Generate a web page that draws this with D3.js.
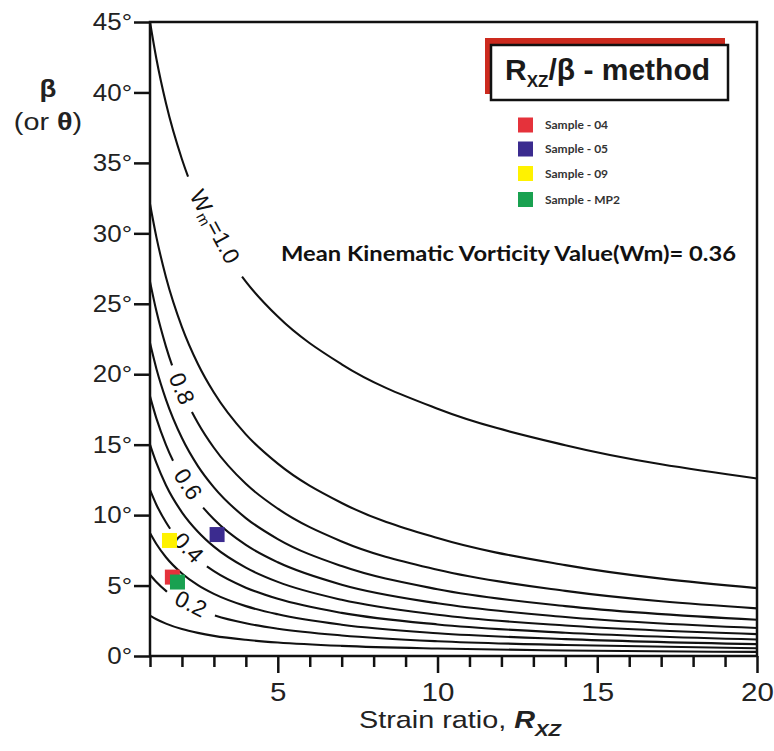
<!DOCTYPE html>
<html><head><meta charset="utf-8">
<script src="https://cdn.jsdelivr.net/npm/d3@7"></script>
<style>body{margin:0;background:#fff} svg{display:block;background:#fff}</style>
</head><body>
<svg id="chart" width="774" height="751"></svg>
<script>
// Strain ratio values at which the curves were read
const rValues = [1, 1.2, 1.5, 2, 2.5, 3, 4, 5, 7, 10, 14, 20];
// Wm contour levels
const wmLevels = [1.0, 0.9, 0.8, 0.7, 0.6, 0.5, 0.4, 0.3, 0.2, 0.1];
// beta (degrees) for each Wm level, at rValues
const betaW10 = [45.00, 42.39, 39.23, 35.26, 32.31, 30.00, 26.57, 24.09, 20.70, 17.55, 14.96, 12.60];
const betaW09 = [32.08, 29.73, 26.89, 23.35, 20.73, 18.70, 15.73, 13.65, 10.86, 8.37, 6.45, 4.82];
const betaW08 = [26.57, 24.48, 21.96, 18.83, 16.54, 14.78, 12.22, 10.46, 8.13, 6.12, 4.62, 3.38];
const betaW07 = [22.21, 20.39, 18.20, 15.47, 13.48, 11.97, 9.79, 8.30, 6.38, 4.74, 3.54, 2.57];
const betaW06 = [18.43, 16.87, 14.99, 12.67, 10.99, 9.70, 7.88, 6.65, 5.06, 3.74, 2.77, 1.99];
const betaW05 = [15.00, 13.70, 12.12, 10.20, 8.82, 7.76, 6.27, 5.26, 3.99, 2.93, 2.16, 1.55];
const betaW04 = [11.79, 10.74, 9.49, 7.97, 6.85, 6.02, 4.85, 4.06, 3.06, 2.24, 1.65, 1.17];
const betaW03 = [8.73, 7.95, 7.01, 5.86, 5.03, 4.41, 3.54, 2.96, 2.22, 1.62, 1.20, 0.84];
const betaW02 = [5.77, 5.25, 4.62, 3.85, 3.31, 2.90, 2.32, 1.94, 1.46, 1.05, 0.78, 0.55];
const betaW01 = [2.87, 2.61, 2.30, 1.91, 1.64, 1.43, 1.15, 0.96, 0.72, 0.53, 0.39, 0.29];
const betaSeries = [betaW10, betaW09, betaW08, betaW07, betaW06, betaW05, betaW04, betaW03, betaW02, betaW01];

// labelled contours: level, text, strain-ratio span of the gap holding the label
const labelWm = [1.0, 0.8, 0.6, 0.4, 0.2];
const labelText = ["=1.0", "0.8", "0.6", "0.4", "0.2"];
const gapFromR = [2.19, 1.69, 1.72, 1.63, 1.53];
const gapToR = [3.88, 2.31, 2.66, 2.78, 3.03];

// samples
const sampleNames = ["Sample - 04", "Sample - 05", "Sample - 09", "Sample - MP2"];
const sampleR = [1.70, 3.10, 1.61, 1.86];
const sampleBeta = [5.60, 8.62, 8.20, 5.25];
const sampleColors = ["#e5323b", "#3b2b8f", "#fff200", "#19a150"];

// ticks
const yTicks = [0, 5, 10, 15, 20, 25, 30, 35, 40, 45];
const xMajorTicks = [5, 10, 15, 20];
const xMinorTicks = [1, 2, 3, 4, 6, 7, 8, 9, 11, 12, 13, 14, 16, 17, 18, 19];

const meanText = "Mean Kinematic Vorticity Value(Wm)= 0.36";

const FONT = "'Liberation Sans', Arial, Helvetica, sans-serif";
const svg = d3.select("#chart");
const x = d3.scaleLinear().domain([1, 20]).range([150, 757]);
const y = d3.scaleLinear().domain([0, 45]).range([656, 22]);

// curves
const line = d3.line().x(d => x(d[0])).y(d => y(d[1])).curve(d3.curveMonotoneX);
const curveG = svg.append("g");
const paths = {};
wmLevels.forEach((w, i) => {
  const pts = rValues.map((r, j) => [r, betaSeries[i][j]]);
  const p = curveG.append("path").datum(pts)
    .attr("d", line).attr("fill", "none")
    .attr("stroke", "#111").attr("stroke-width", 2.1);
  paths[w] = p;
});

function lengthAtX(node, px) {
  let lo = 0, hi = node.getTotalLength();
  for (let k = 0; k < 50; k++) {
    const mid = (lo + hi) / 2;
    if (node.getPointAtLength(mid).x < px) lo = mid; else hi = mid;
  }
  return (lo + hi) / 2;
}

const labG = svg.append("g");
labelWm.forEach((w, i) => {
  const node = paths[w].node();
  const total = node.getTotalLength();
  const l1 = lengthAtX(node, x(gapFromR[i]));
  const l2 = lengthAtX(node, x(gapToR[i]));
  paths[w].attr("stroke-dasharray", `${l1} ${l2 - l1} ${total}`);
  const p1 = node.getPointAtLength(l1), p2 = node.getPointAtLength(l2);
  const cx = (p1.x + p2.x) / 2, cy = (p1.y + p2.y) / 2;
  const ang = Math.atan2(p2.y - p1.y, p2.x - p1.x) * 180 / Math.PI;
  const t = labG.append("text")
    .attr("transform", `translate(${cx},${cy}) rotate(${ang})`)
    .attr("text-anchor", "middle").attr("dominant-baseline", "central")
    .attr("font-family", FONT).attr("font-size", 23).attr("fill", "#111");
  if (w === 1.0) {
    t.append("tspan").text("W");
    t.append("tspan").attr("font-size", 15).attr("dy", 6).text("m");
    t.append("tspan").attr("dy", -6).text(labelText[i]);
  } else {
    t.text(labelText[i]);
  }
});

// frame
svg.append("rect").attr("x", x(1)).attr("y", y(45))
  .attr("width", x(20) - x(1)).attr("height", y(0) - y(45))
  .attr("fill", "none").attr("stroke", "#111").attr("stroke-width", 2.5);

// y axis
const gy = svg.append("g").attr("transform", `translate(${x(1)},0)`)
  .call(d3.axisLeft(y).tickValues(yTicks).tickSize(16).tickPadding(2).tickFormat(d => d + "°"));
gy.select(".domain").remove();
gy.selectAll(".tick line").attr("stroke", "#111").attr("stroke-width", 2.5);
gy.selectAll(".tick text").attr("font-family", FONT).attr("font-size", 24).attr("fill", "#222")
  .attr("x", -18 / 1.08).attr("transform", "scale(1.08,1)");

// x axis minor
const gxm = svg.append("g").attr("transform", `translate(0,${y(0)})`)
  .call(d3.axisBottom(x).tickValues(xMinorTicks).tickSize(11).tickFormat(""));
gxm.select(".domain").remove();
gxm.selectAll(".tick line").attr("stroke", "#111").attr("stroke-width", 2.5);
// x axis major
const gx = svg.append("g").attr("transform", `translate(0,${y(0)})`)
  .call(d3.axisBottom(x).tickValues(xMajorTicks).tickSize(17).tickPadding(10).tickFormat(d3.format("d")));
gx.select(".domain").remove();
gx.selectAll(".tick line").attr("stroke", "#111").attr("stroke-width", 2.5);
gx.selectAll(".tick text").attr("font-family", FONT).attr("font-size", 25).attr("fill", "#222")
  .attr("transform", "scale(1.18,1)");

// axis titles
const xt = svg.append("text").attr("transform", "translate(460,728) scale(1.2,1)")
  .attr("text-anchor", "middle").attr("font-family", FONT).attr("font-size", 24).attr("fill", "#222");
xt.append("tspan").text("Strain ratio, ");
xt.append("tspan").attr("font-weight", "bold").attr("font-style", "italic").text("R");
xt.append("tspan").attr("font-weight", "bold").attr("font-style", "italic").attr("font-size", 17).attr("dy", 8).text("XZ");

svg.append("text").attr("transform", "translate(48,97) scale(1.15,1)")
  .attr("text-anchor", "middle").attr("font-family", FONT).attr("font-size", 24)
  .attr("font-weight", "bold").attr("fill", "#222").text("β");
const yt2 = svg.append("text").attr("transform", "translate(48,130) scale(1.2,1)")
  .attr("text-anchor", "middle").attr("font-family", FONT).attr("font-size", 24).attr("fill", "#222");
yt2.append("tspan").text("(or ");
yt2.append("tspan").attr("font-weight", "bold").text("θ");
yt2.append("tspan").text(")");

// title box
svg.append("rect").attr("x", 485).attr("y", 38).attr("width", 240).attr("height", 56).attr("fill", "#cc2a1e");
svg.append("rect").attr("x", 491).attr("y", 45).attr("width", 237).attr("height", 55)
  .attr("fill", "#fff").attr("stroke", "#111").attr("stroke-width", 2.5);
const tt = svg.append("text").attr("x", 505).attr("y", 80)
  .attr("font-family", FONT).attr("font-weight", "bold").attr("font-size", 30).attr("fill", "#1a1a1a");
tt.append("tspan").text("R");
tt.append("tspan").attr("font-size", 17).attr("dy", 7).text("XZ");
tt.append("tspan").attr("dy", -7).text("/β - method");

// legend
const lg = svg.append("g");
const legendY = [125, 149, 173.5, 199.5];
sampleNames.forEach((n, i) => {
  lg.append("rect").attr("x", 518).attr("y", legendY[i] - 7.5).attr("width", 15).attr("height", 15)
    .attr("fill", sampleColors[i]);
  lg.append("text").attr("x", 545).attr("y", legendY[i] + 4)
    .attr("font-family", "Lato, 'Open Sans', sans-serif").attr("font-weight", "bold")
    .attr("font-size", 12).attr("fill", "#333").text(n);
});

// mean text
svg.append("text").attr("x", 281).attr("y", 261)
  .attr("font-family", "Lato, 'Open Sans', sans-serif").attr("font-weight", "bold")
  .attr("font-size", 20).attr("fill", "#111")
  .attr("textLength", 455).attr("lengthAdjust", "spacingAndGlyphs").text(meanText);

// sample points
const sq = 15;
svg.append("g").selectAll("rect").data(sampleNames).join("rect")
  .attr("x", (d, i) => x(sampleR[i]) - sq / 2)
  .attr("y", (d, i) => y(sampleBeta[i]) - sq / 2)
  .attr("width", sq).attr("height", sq)
  .attr("fill", (d, i) => sampleColors[i]);
</script>
</body></html>
